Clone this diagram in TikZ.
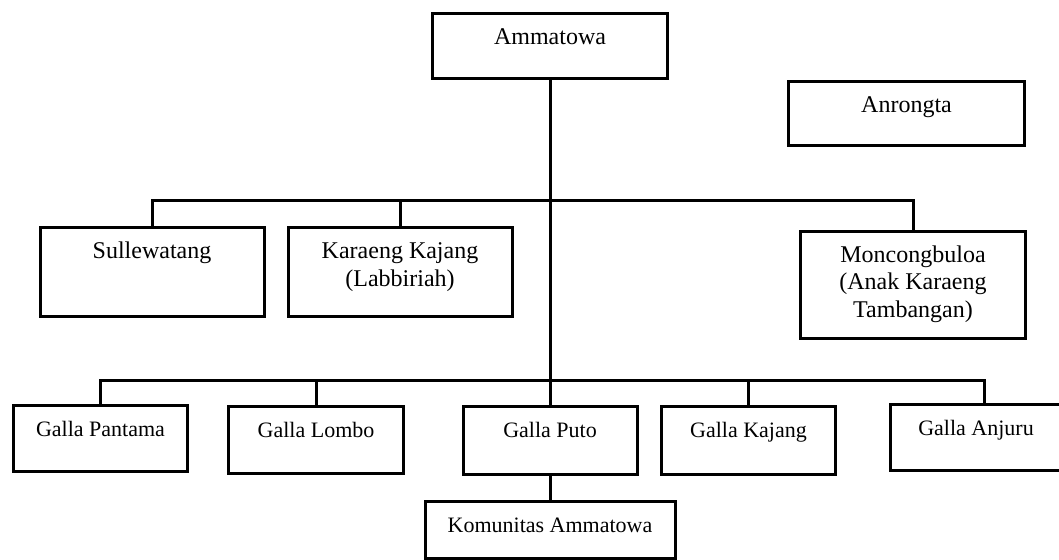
\documentclass[tikz,border=0pt]{standalone}
\usepackage{fontspec}
\setmainfont{Liberation Serif}
\usetikzlibrary{positioning}
\tikzset{
    orgbox/.style={
        draw=black,
        fill=white,
        line width=1.5pt,
        inner xsep=2pt,
        inner ysep=0pt,
        text height=15.5pt,
        align=center,
        font=\fontsize{12}{13.75}\selectfont
    },
    gallabox/.style={
        orgbox,
        font=\fontsize{11}{13}\selectfont
    },
    orgline/.style={
        draw=black,
        line width=1.5pt
    }
}

\begin{document}
\begin{tikzpicture}[x=0.5pt,y=-0.5pt]
    \useasboundingbox (0,0) rectangle (1059,560);

    % top level
    \node[orgbox,minimum width=117.5pt,minimum height=32.5pt,text depth=17pt] (ammatowa) at (550,46) {Ammatowa};
    \node[orgbox,minimum width=118pt,minimum height=32pt,text depth=16.5pt] (anrongta) at (906.5,113.5) {Anrongta};

    % second level
    \node[orgbox,minimum width=112pt,minimum height=44.5pt,text depth=29pt] (sullewatang) at (152,272.5) {Sullewatang};
    \node[orgbox,minimum width=112pt,minimum height=44.5pt,text height=29.25pt,text depth=15.25pt] (karaeng) at (400,272.5) {Karaeng Kajang\\(Labbiriah)};
    \node[orgbox,minimum width=112.5pt,minimum height=53.5pt,text height=43pt,text depth=10.5pt] (moncongbuloa) at (913,285) {Moncongbuloa\\(Anak Karaeng\\Tambangan)};

    % galla
    \node[gallabox,minimum width=87pt,minimum height=33pt,text depth=17.5pt] (pantama) at (100.5,438.5) {Galla Pantama};
    \node[gallabox,minimum width=87.5pt,minimum height=33.25pt,text depth=17.75pt] (lombo) at (316,440) {Galla Lombo};
    \node[gallabox,minimum width=87pt,minimum height=33.75pt,text depth=18.25pt] (puto) at (550,440.75) {Galla Puto};
    \node[gallabox,minimum width=87pt,minimum height=34pt,text depth=18.5pt] (kajang) at (748.5,440.5) {Galla Kajang};
    \node[gallabox,minimum width=85.5pt,minimum height=33pt,text depth=17.5pt] (anjuru) at (976,437.5) {Galla Anjuru};
    \node[gallabox,minimum width=125pt,minimum height=28.25pt,text depth=12.75pt] (komunitas) at (550,529.75) {Komunitas Ammatowa};

    % bus lines
    \coordinate (upbus) at (550,201);
    \coordinate (lowbus) at (550,381);

    \draw[orgline] (ammatowa.south) -- (puto.north);
    \draw[orgline] (sullewatang.north) |- (upbus) -| (moncongbuloa.north);
    \draw[orgline] (karaeng.north) -- (karaeng.north |- upbus);
    \draw[orgline] (pantama.north) |- (lowbus) -| ([xshift=4]anjuru.north);
    \draw[orgline] (lombo.north) -- (lombo.north |- lowbus);
    \draw[orgline] (kajang.north) -- (kajang.north |- lowbus);
    \draw[orgline] (puto.south) -- (komunitas.north);
\end{tikzpicture}
\end{document}
